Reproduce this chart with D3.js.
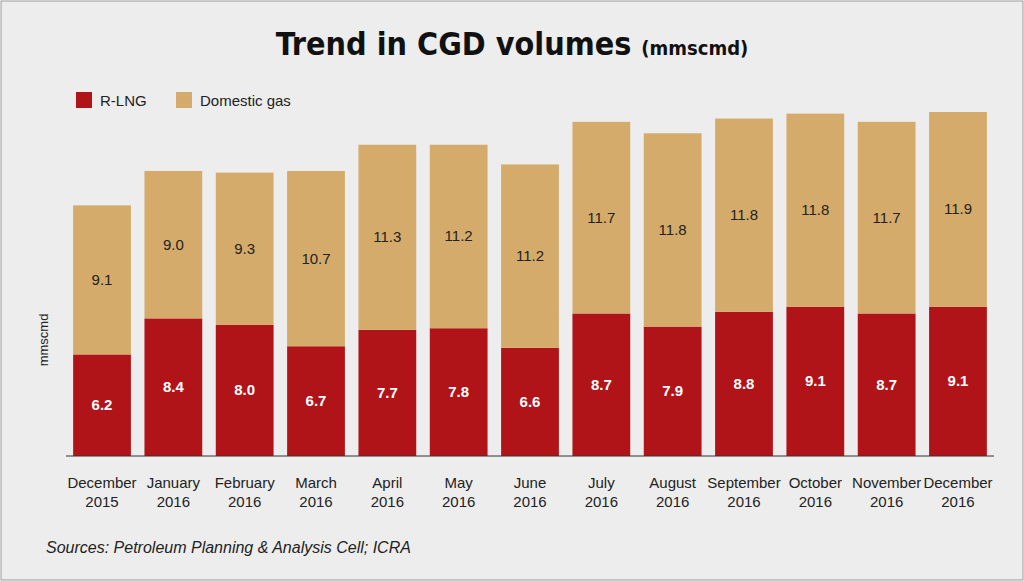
<!DOCTYPE html>
<html><head><meta charset="utf-8">
<script src="https://cdn.jsdelivr.net/npm/d3@7"></script>
<style>body{margin:0;background:#fff}</style>
</head><body>
<svg id="c" width="1024" height="581"></svg>
<script>
const months = ["December|2015","January|2016","February|2016","March|2016","April|2016","May|2016","June|2016","July|2016","August|2016","September|2016","October|2016","November|2016","December|2016"];
const rlng = [6.2,8.4,8.0,6.7,7.7,7.8,6.6,8.7,7.9,8.8,9.1,8.7,9.1];
const domestic = [9.1,9.0,9.3,10.7,11.3,11.2,11.2,11.7,11.8,11.8,11.8,11.7,11.9];

const svg = d3.select("#c");
svg.append("rect").attr("x",1).attr("y",1).attr("width",1022).attr("height",579)
  .attr("fill","#ededed").attr("stroke","#999");

svg.append("text").attr("x",512).attr("y",55).attr("text-anchor","middle")
  .attr("font-family","DejaVu Sans Condensed").attr("font-weight","bold")
  .attr("font-size",32).attr("fill","#111")
  .text("Trend in CGD volumes ")
  .append("tspan").attr("font-size",20).text("(mmscmd)");

const x = d3.scaleBand().domain(months).range([66,994]).paddingInner(0.19).paddingOuter(0.1);
const y = d3.scaleLinear().domain([0,21]).range([456,112]);

const g = svg.append("g");
months.forEach((m,i)=>{
  const xx = x(m), w = x.bandwidth();
  g.append("rect").attr("x",xx).attr("width",w).attr("y",y(rlng[i])).attr("height",y(0)-y(rlng[i])).attr("fill","#b01419");
  g.append("rect").attr("x",xx).attr("width",w).attr("y",y(rlng[i]+domestic[i])).attr("height",y(0)-y(domestic[i])).attr("fill","#d4ab6a");
  g.append("text").attr("x",xx+w/2).attr("y",y(rlng[i]/2)+5).attr("text-anchor","middle")
    .attr("font-family","Liberation Sans").attr("font-weight","bold").attr("font-size",15).attr("fill","#fff").text(rlng[i].toFixed(1));
  g.append("text").attr("x",xx+w/2).attr("y",y(rlng[i]+domestic[i]/2)+5).attr("text-anchor","middle")
    .attr("font-family","Liberation Sans").attr("font-size",15).attr("fill","#222").text(domestic[i].toFixed(1));
});

const ax = svg.append("g").attr("transform","translate(0,456)")
  .call(d3.axisBottom(x).tickSize(0).tickFormat(""));
ax.select(".domain").attr("stroke","#333").attr("d","M66,0H994");
months.forEach(m=>{
  const [a,b] = m.split("|");
  const t = svg.append("text").attr("x",x(m)+x.bandwidth()/2).attr("y",488).attr("text-anchor","middle")
    .attr("font-family","Liberation Sans Narrow, Liberation Sans").attr("font-size",15).attr("fill","#222");
  t.append("tspan").attr("x",x(m)+x.bandwidth()/2).text(a);
  t.append("tspan").attr("x",x(m)+x.bandwidth()/2).attr("dy",19).text(b);
});

svg.append("text").attr("transform","translate(48,340) rotate(-90)").attr("text-anchor","middle")
  .attr("font-family","Liberation Sans").attr("font-size",13).attr("fill","#222").text("mmscmd");

const leg = [["R-LNG","#b01419",76],["Domestic gas","#d4ab6a",176]];
leg.forEach(([t,c,lx])=>{
  svg.append("rect").attr("x",lx).attr("y",92).attr("width",16).attr("height",16).attr("fill",c);
  svg.append("text").attr("x",lx+24).attr("y",106).attr("font-family","Liberation Sans Narrow, Liberation Sans")
    .attr("font-size",15).attr("fill","#222").text(t);
});

svg.append("text").attr("x",46).attr("y",553).attr("font-family","Liberation Sans Narrow, Liberation Sans")
  .attr("font-style","italic").attr("font-size",16).attr("fill","#222")
  .text("Sources: Petroleum Planning & Analysis Cell; ICRA");
</script>
</body></html>
